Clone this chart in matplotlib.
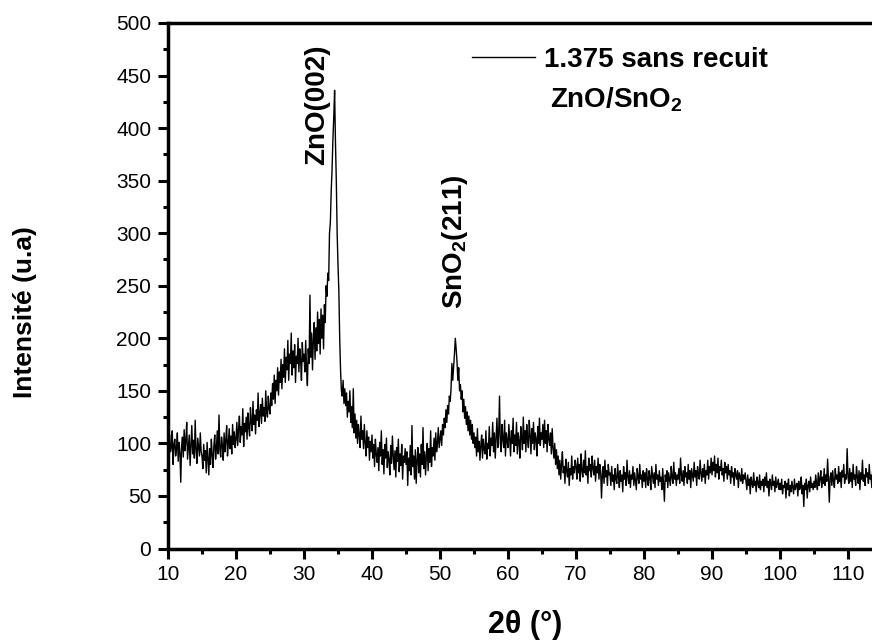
import numpy as np
import matplotlib
matplotlib.use("Agg")
import matplotlib.pyplot as plt
from matplotlib.ticker import MultipleLocator

plt.rcParams['font.family'] = ['Liberation Sans', 'DejaVu Sans']
plt.rcParams['mathtext.fontset'] = 'custom'
plt.rcParams['mathtext.rm'] = 'Liberation Sans'
plt.rcParams['mathtext.bf'] = 'Liberation Sans:bold'

# ---- data: XRD pattern, 2theta from 10 deg, step 0.125 deg ----
two_theta_start = 10.0
two_theta_step = 0.125
intensity = [
    # 10 - 15
    100, 84, 108, 92, 97, 112, 80, 99, 104, 88, 95, 110, 83, 101, 91, 63, 98, 106, 87, 113,
    93, 102, 120, 85, 96, 108, 79, 99, 117, 90, 103, 86, 122, 94, 81, 105, 97, 88, 110, 92,
    # 15 - 20
    88, 76, 99, 84, 93, 72, 101, 86, 70, 95, 80, 104, 89, 77, 98, 108, 85, 96, 112, 90,
    127, 94, 87, 106, 98, 84, 110, 92, 103, 117, 88, 100, 114, 95, 107, 90, 118, 99, 111, 96,
    # 20 - 25
    104, 120, 98, 113, 126, 101, 116, 108, 133, 97, 119, 111, 125, 104, 129, 115, 107, 134, 120, 112,
    140, 118, 127, 109, 132, 122, 148, 116, 128, 137, 119, 143, 126, 134, 121, 150, 130, 125, 145, 133,
    # 25 - 30
    128, 148, 136, 157, 142, 165, 138, 160, 150, 172, 146, 168, 158, 180, 152, 175, 163, 190, 158, 182,
    170, 198, 160, 185, 176, 205, 165, 188, 172, 194, 158, 183, 176, 200, 168, 190, 180, 160, 196, 178,
    # 30 - 35
    185, 168, 198, 172, 155, 190, 176, 241, 182, 205, 170, 198, 215, 180, 210, 188, 225, 195, 218, 185,
    228, 200, 222, 190, 232, 215, 250, 240, 262, 255, 300, 310, 340, 360, 389, 410, 436, 387, 350, 300,
    # 35 - 40
    270, 245, 200, 170, 150, 145, 160, 138, 152, 136, 148, 125, 140, 130, 150, 120, 135, 115, 152, 110,
    128, 105, 122, 100, 118, 108, 96, 126, 104, 112, 95, 118, 100, 88, 112, 96, 106, 84, 102, 92,
    # 40 - 45
    108, 86, 99, 78, 104, 90, 82, 96, 74, 101, 88, 112, 80, 94, 71, 99, 86, 105, 77, 92,
    84, 70, 98, 81, 107, 88, 75, 93, 68, 96, 83, 104, 73, 90, 79, 99, 66, 88, 82, 95,
    # 45 - 50
    80, 92, 60, 86, 74, 98, 70, 117, 78, 88, 66, 94, 62, 84, 96, 72, 90, 68, 99, 80,
    115, 76, 92, 70, 88, 100, 74, 95, 82, 112, 78, 96, 88, 105, 84, 110, 92, 100, 115, 96,
    # 50 - 55
    104, 112, 98, 118, 108, 124, 115, 132, 120, 136, 128, 145, 140, 152, 176, 160, 172, 185, 200, 190,
    178, 160, 172, 150, 156, 142, 150, 130, 142, 124, 135, 118, 130, 112, 126, 108, 122, 104, 118, 100,
    # 55 - 60
    110, 96, 106, 88, 114, 92, 102, 84, 98, 108, 86, 104, 94, 90, 112, 85, 100, 95, 116, 88,
    105, 98, 120, 92, 110, 86, 104, 124, 96, 108, 145, 100, 92, 118, 104, 96, 122, 88, 110, 102,
    # 60 - 65
    96, 118, 104, 88, 112, 100, 124, 92, 108, 98, 120, 90, 110, 102, 86, 116, 106, 94, 125, 100,
    112, 92, 118, 104, 96, 122, 108, 90, 114, 100, 120, 94, 110, 104, 88, 116, 100, 124, 98, 110,
    # 65 - 70
    104, 118, 96, 122, 100, 112, 92, 118, 104, 98, 110, 90, 114, 96, 86, 100, 80, 94, 76, 88,
    70, 84, 66, 80, 92, 72, 78, 62, 85, 74, 68, 82, 60, 76, 70, 88, 66, 78, 72, 84,
    # 70 - 75
    78, 66, 86, 72, 80, 64, 90, 74, 68, 84, 72, 93, 70, 78, 62, 86, 74, 80, 68, 88,
    76, 70, 84, 64, 78, 72, 86, 66, 80, 74, 48, 70, 78, 62, 84, 68, 74, 60, 80, 70,
    # 75 - 80
    72, 60, 78, 64, 70, 56, 76, 66, 62, 80, 68, 58, 74, 64, 70, 54, 78, 66, 72, 60,
    84, 68, 62, 74, 58, 70, 66, 78, 60, 72, 64, 56, 76, 68, 62, 80, 66, 70, 58, 74,
    # 80 - 85
    64, 72, 58, 76, 66, 60, 74, 68, 56, 78, 70, 62, 72, 58, 80, 66, 70, 60, 74, 64,
    68, 56, 76, 62, 45, 70, 64, 74, 58, 72, 66, 60, 78, 68, 62, 82, 66, 72, 60, 70,
    # 85 - 90
    66, 76, 62, 86, 70, 64, 74, 60, 78, 68, 72, 62, 80, 66, 74, 58, 76, 70, 64, 82,
    68, 74, 60, 78, 70, 66, 84, 72, 64, 76, 68, 80, 62, 74, 70, 84, 66, 78, 72, 86,
    # 90 - 95
    70, 82, 74, 88, 68, 80, 72, 86, 66, 78, 74, 84, 70, 76, 64, 82, 72, 78, 66, 80,
    70, 74, 62, 78, 68, 72, 60, 76, 70, 66, 74, 58, 72, 68, 64, 76, 62, 70, 66, 72,
    # 95 - 100
    64, 56, 70, 60, 66, 52, 68, 62, 58, 72, 60, 64, 54, 68, 62, 58, 70, 56, 64, 60,
    66, 54, 68, 60, 72, 58, 64, 50, 66, 62, 56, 70, 60, 64, 54, 68, 58, 62, 66, 56,
    # 100 - 105
    62, 56, 66, 52, 60, 58, 64, 48, 62, 56, 66, 50, 60, 54, 64, 58, 52, 66, 56, 60,
    62, 50, 64, 56, 58, 68, 52, 60, 40, 62, 56, 66, 48, 60, 64, 54, 68, 58, 62, 56,
    # 105 - 110
    64, 58, 70, 62, 56, 72, 60, 66, 74, 58, 68, 62, 76, 60, 70, 64, 85, 66, 44, 68,
    72, 60, 74, 64, 58, 76, 66, 70, 62, 78, 64, 72, 58, 74, 68, 80, 62, 70, 66, 95,
    # 110 - 115
    68, 62, 76, 64, 72, 58, 80, 66, 70, 60, 78, 68, 62, 74, 56, 72, 66, 84, 64, 70,
    60, 76, 68, 72, 62, 80, 66, 70, 58, 74, 68, 64, 78, 62, 72, 66, 70, 60, 76, 68,
    66,
]
x_ticks = [10, 20, 30, 40, 50, 60, 70, 80, 90, 100, 110]
y_ticks = [0, 50, 100, 150, 200, 250, 300, 350, 400, 450, 500]
series_label = "1.375 sans recuit"
sample_label = r"ZnO/SnO$_\mathbf{2}$"
peak_labels = ["ZnO(002)", r"SnO$_\mathbf{2}$(211)"]
peak_pos = [(31.9, 422), (52.2, 292)]

two_theta = two_theta_start + two_theta_step * np.arange(len(intensity))

W, H = 872, 644
fig = plt.figure(figsize=(W / 100, H / 100), dpi=100)
ax = fig.add_axes([168 / W, 95.5 / H, 714 / W, 525.5 / H])

ax.plot(two_theta, intensity, color='black', lw=1.0, label=series_label)

ax.set_xlim(10, 115)
ax.set_ylim(0, 500)
ax.set_xticks(x_ticks)
ax.set_yticks(y_ticks)
ax.xaxis.set_minor_locator(MultipleLocator(5))
ax.yaxis.set_minor_locator(MultipleLocator(25))

for s in ax.spines.values():
    s.set_linewidth(2.5)
ax.tick_params(which='major', direction='out', length=7, width=2.2, labelsize=15, pad=5)
ax.tick_params(which='minor', direction='out', length=3.5, width=2.2)
ax.tick_params(top=False, right=False, which='both')

ax.set_xlabel("2θ (°)", fontsize=22, fontweight='bold', va='center')
ax.xaxis.set_label_coords(0.5, (19 - 95.5) / 525.5)
ax.set_ylabel("Intensité (u.a)", fontsize=19, fontweight='bold', va='center', ha='center')
ax.yaxis.set_label_coords((25 - 168) / 714, (332 - 95.5) / 525.5)

for lab, (px, py) in zip(peak_labels, peak_pos):
    ax.text(px, py, lab, rotation=90, fontsize=20, fontweight='bold',
            ha='center', va='center')

leg = ax.legend(loc='center left', bbox_to_anchor=(472 / W, (H - 60) / H),
                bbox_transform=fig.transFigure, frameon=False,
                handlelength=2.25, handletextpad=0.35, borderpad=0, borderaxespad=0,
                prop={'weight': 'bold', 'size': 20})
fig.text(550 / W, (H - 107) / H, sample_label, fontsize=20, fontweight='bold',
         ha='left', va='baseline')

fig.savefig("out.png", dpi=100)
